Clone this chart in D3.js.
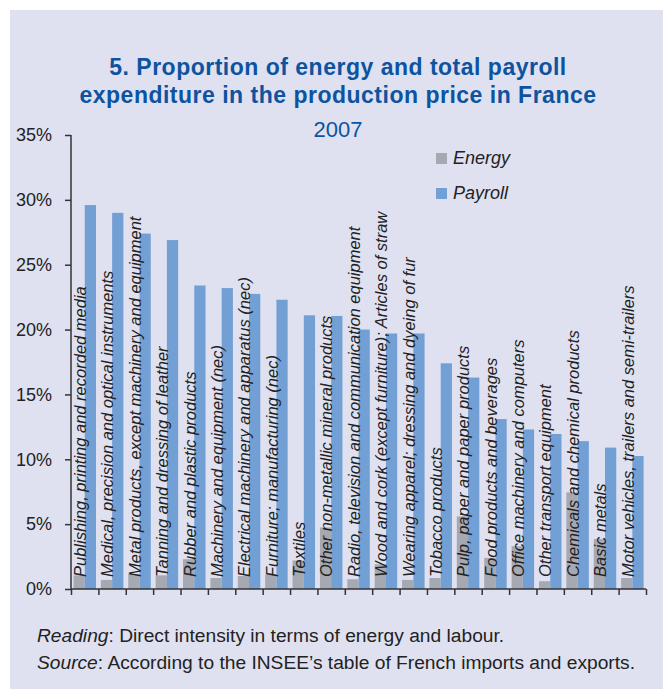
<!DOCTYPE html>
<html>
<head>
<meta charset="utf-8">
<script src="https://cdn.jsdelivr.net/npm/d3@7"></script>
<style>
  html, body { margin: 0; padding: 0; background: #fff; }
  svg { display: block; font-family: "Liberation Sans", Arial, sans-serif; }
</style>
</head>
<body>
<script>
// categories, left to right
var categories = [
  "Publishing, printing and recorded media",
  "Medical, precision and optical instruments",
  "Metal products, except machinery and equipment",
  "Tanning and dressing of leather",
  "Rubber and plastic products",
  "Machinery and equipment (nec)",
  "Electrical machinery and apparatus (nec)",
  "Furniture; manufacturing (nec)",
  "Textiles",
  "Other non-metallic mineral products",
  "Radio, television and communication equipment",
  "Wood and cork (except furniture); Articles of straw",
  "Wearing apparel; dressing and dyeing of fur",
  "Tobacco products",
  "Pulp, paper and paper products",
  "Food products and beverages",
  "Office machinery and computers",
  "Other transport equipment",
  "Chemicals and chemical products",
  "Basic metals",
  "Motor vehicles, trailers and semi-trailers"
];
var energy  = [1.05, 0.7, 1.15, 1.05, 2.3, 0.85, 1.0, 1.1, 2.2, 4.75, 0.75, 1.9, 0.7, 0.85, 5.6, 2.4, 3.3, 0.6, 7.45, 3.85, 0.85];
var payroll = [29.6, 29.0, 27.4, 26.9, 23.4, 23.2, 22.75, 22.3, 21.1, 21.05, 20.0, 19.7, 19.7, 17.4, 16.3, 13.1, 12.3, 11.95, 11.4, 10.9, 10.25];
var yTicks = [0, 5, 10, 15, 20, 25, 30, 35];
var seriesNames = ["Energy", "Payroll"];
var seriesColors = ["#a6a8b2", "#73a0d4"];

var W = 663, H = 689;
var svg = d3.select("body").append("svg").attr("width", W).attr("height", H);

// panel
svg.append("rect").attr("x", 10).attr("y", 10).attr("width", W - 10).attr("height", H - 10)
  .attr("fill", "#dfe1f1");

// titles
var titleColor = "#0d539f";
svg.append("text").attr("x", 338).attr("y", 75).attr("text-anchor", "middle")
  .attr("fill", titleColor).style("font-weight", "bold").style("font-size", "23px")
  .style("letter-spacing", "0.5px")
  .text("5. Proportion of energy and total payroll");
svg.append("text").attr("x", 338).attr("y", 103).attr("text-anchor", "middle")
  .attr("fill", titleColor).style("font-weight", "bold").style("font-size", "23px")
  .style("letter-spacing", "0.5px")
  .text("expenditure in the production price in France");
svg.append("text").attr("x", 338).attr("y", 137).attr("text-anchor", "middle")
  .attr("fill", titleColor).style("font-size", "22px")
  .text("2007");

var pLeft = 71, pRight = 646, pTop = 135, pBottom = 589;

var x = d3.scaleBand().domain(categories).range([pLeft, pRight]);
var xs = d3.scaleBand().domain(seriesNames).range([2.5, 25]);
var xTick = d3.scaleLinear().domain([0, categories.length]).range([pLeft, pRight]);
var y = d3.scaleLinear().domain([0, 35]).range([pBottom, pTop]);

// bars
var series = [energy, payroll];
series.forEach(function(vals, si){
  svg.append("g").selectAll("rect").data(vals).enter().append("rect")
    .attr("x", function(d, i){ return x(categories[i]) + xs(seriesNames[si]); })
    .attr("width", xs.bandwidth())
    .attr("y", function(d){ return y(d); })
    .attr("height", function(d){ return y(0) - y(d); })
    .attr("fill", seriesColors[si]);
});

// category labels, rotated
svg.append("g").selectAll("text").data(categories).enter().append("text")
  .attr("transform", function(d){ return "translate(" + (x(d) + 15) + ",577) rotate(-90)"; })
  .style("font-style", "italic").style("font-size", "16.5px").attr("fill", "#222")
  .text(function(d){ return d; });

// axes
var yAxis = svg.append("g").attr("transform", "translate(" + pLeft + ",0)")
  .call(d3.axisLeft(y).tickValues(yTicks).tickSize(6).tickPadding(13)
        .tickFormat(function(d){ return d + "%"; }));
yAxis.select(".domain").attr("d", "M0," + pTop + "V" + pBottom);
yAxis.selectAll("text").style("font-size", "18px").attr("fill", "#222").style("font-family", "inherit");

var xAxis = svg.append("g").attr("transform", "translate(0," + pBottom + ")")
  .call(d3.axisBottom(xTick).tickValues(d3.range(categories.length + 1)).tickSize(6).tickFormat(""));
xAxis.select(".domain").attr("d", "M" + pLeft + ",0H" + pRight);

svg.selectAll(".domain, .tick line").attr("stroke", "#333").attr("stroke-width", 1.5);

// legend
var legend = svg.append("g").selectAll("g").data(seriesNames).enter().append("g")
  .attr("transform", function(d, i){ return "translate(436," + (153 + i * 35) + ")"; });
legend.append("rect").attr("width", 11).attr("height", 11)
  .attr("fill", function(d, i){ return seriesColors[i]; });
legend.append("text").attr("x", 17).attr("y", 10.5)
  .style("font-style", "italic").style("font-size", "18px").attr("fill", "#222")
  .text(function(d){ return d; });

// notes
var note1 = svg.append("text").attr("x", 37).attr("y", 642).style("font-size", "19.2px").attr("fill", "#222");
note1.append("tspan").style("font-style", "italic").text("Reading");
note1.append("tspan").text(": Direct intensity in terms of energy and labour.");
var note2 = svg.append("text").attr("x", 37).attr("y", 669).style("font-size", "19.2px").attr("fill", "#222");
note2.append("tspan").style("font-style", "italic").text("Source");
note2.append("tspan").text(": According to the INSEE\u2019s table of French imports and exports.");
</script>
</body>
</html>
